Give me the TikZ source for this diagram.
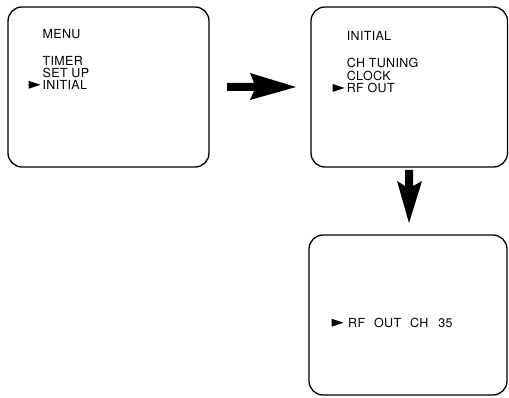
\documentclass[tikz,border=0pt]{standalone}
\usepackage{fontspec}
\setmainfont{TeX Gyre Heros}
\begin{document}
\begin{tikzpicture}[x=1pt,y=-1pt,
  screen/.style={draw,line width=1.3pt,rounded corners=14pt},
  lbl/.style={anchor=base west,inner sep=0pt,font=\fontsize{12.5}{13}\selectfont\addfontfeatures{LetterSpace=2.5}},
  ptr/.pic={\fill (0,0) -- (12,4) -- (0,8) -- cycle;},
  bigarrow/.style={fill=black}]
\useasboundingbox (0,0) rectangle (509,398);
% screens
\draw[screen] (8,7) rectangle (209,167);
\node[inner sep=0pt] (s1) at (108.5,87) {};
\draw[screen] (311,7) rectangle (507.5,167);
\node[inner sep=0pt] (s2) at (409,87) {};
\draw[screen] (309,235) rectangle (507,395);
\node[inner sep=0pt] (s3) at (408,315) {};
% screen 1 text
\node[lbl] (m1) at (42.5,38.8) {MENU};
\node[lbl] (m2) at (42.5,65.5) {TIMER};
\node[lbl] (m3) at (42.5,77.5) {SET UP};
\node[lbl] (m4) at (42.5,89.3) {INITIAL};
\pic at (28.5,80.8) {ptr};
% screen 2 text
\node[lbl] (i1) at (346.7,40.5) {INITIAL};
\node[lbl] (i2) at (346.7,67.2) {CH TUNING};
\node[lbl] (i3) at (346.7,80.2) {CLOCK};
\node[lbl] (i4) at (346.7,92.4) {RF OUT};
\pic at (332.5,84) {ptr};
% screen 3 text
\node[lbl] (r1) at (348,327.2) {RF\hspace{9pt}OUT\hspace{9pt}CH\hspace{10pt}35};
\pic at (331.5,318.7) {ptr};
% arrows
\coordinate (a1) at (227,87);
\coordinate (a2) at (296,87);
\fill[bigarrow] (227,83) -- (254,83) -- (250,73) -- (a2) -- (250,100) -- (254,91) -- (227,91) -- cycle;
\coordinate (b1) at (409,170);
\coordinate (b2) at (409,223);
\fill[bigarrow] (405,170) -- (405,186) -- (397,181) -- (b2) -- (422,181) -- (413,186) -- (413,170) -- cycle;
\end{tikzpicture}
\end{document}
